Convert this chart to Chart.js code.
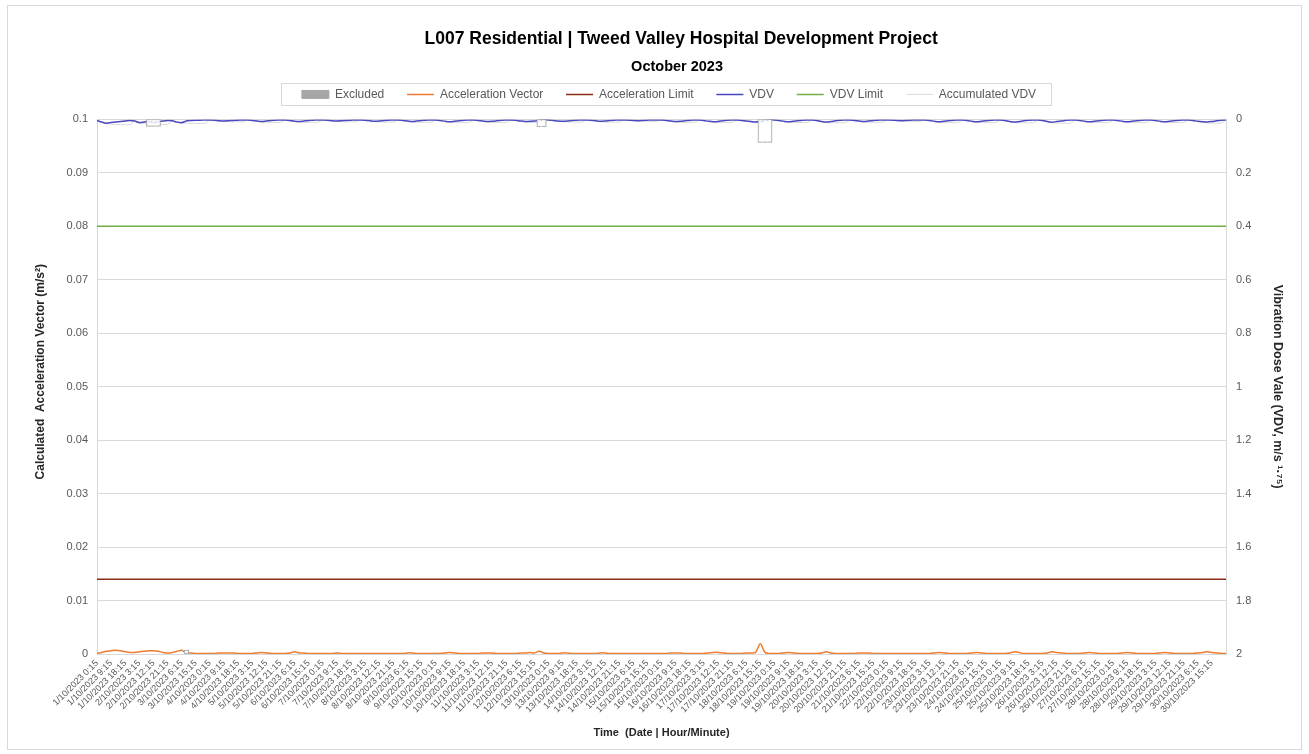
<!DOCTYPE html>
<html>
<head>
<meta charset="utf-8">
<script src="https://cdn.jsdelivr.net/npm/chart.js@4"></script>
<style>
  html, body { margin: 0; padding: 0; background: #fff; }
  #wrap { width: 1309px; height: 754px; }
</style>
</head>
<body>
<div id="wrap"><canvas id="vibChart" width="1309" height="754"></canvas></div>
<script>
// x categories: every 3 hours from 1/10/2023 0:15 to 31/10/2023 0:15
const timeLabels = []
for (let d = 1; d <= 31; d++) {
  for (let h = 0; h < 24; h += 3) {
    if (d === 31 && h > 0) break
    timeLabels.push(d + "/10/2023 " + h + ":15")
  }
}

// Acceleration vector (m/s2), left axis
const accelVector = [
  0.0001,0.0003,0.0005,0.0006,0.0007,0.0006,0.0004,0.0003,
  0.0003,0.0004,0.0005,0.0006,0.0006,0.0005,0.0003,0.0002,
  0.0003,0.0005,0.0007,0.0002,0.0002,0.0001,0.0001,0.0001,
  0.0001,0.0001,0.0002,0.0002,0.0002,0.0002,0.0001,0.0001,
  0.0001,0.0001,0.0002,0.0003,0.0002,0.0001,0.0001,0.0001,
  0.0001,0.0002,0.0004,0.0002,0.0002,0.0001,0.0001,0.0001,
  0.0001,0.0001,0.0001,0.0002,0.0001,0.0001,0.0001,0.0001,
  0.0001,0.0001,0.0001,0.0001,0.0001,0.0001,0.0001,0.0001,
  0.0001,0.0001,0.0002,0.0002,0.0001,0.0001,0.0001,0.0001,
  0.0001,0.0001,0.0002,0.0003,0.0002,0.0001,0.0001,0.0001,
  0.0001,0.0001,0.0002,0.0002,0.0002,0.0001,0.0001,0.0001,
  0.0001,0.0001,0.0002,0.0002,0.0003,0.0002,0.0005,0.0002,
  0.0001,0.0001,0.0001,0.0002,0.0002,0.0001,0.0001,0.0001,
  0.0001,0.0001,0.0001,0.0002,0.0002,0.0001,0.0001,0.0001,
  0.0001,0.0001,0.0001,0.0001,0.0001,0.0001,0.0001,0.0001,
  0.0001,0.0001,0.0002,0.0002,0.0002,0.0001,0.0001,0.0001,
  0.0001,0.0001,0.0002,0.0003,0.0003,0.0002,0.0001,0.0001,
  0.0001,0.0001,0.0002,0.0002,0.0003,0.0019,0.0003,0.0001,
  0.0001,0.0001,0.0002,0.0003,0.0002,0.0001,0.0001,0.0001,
  0.0001,0.0001,0.0002,0.0004,0.0002,0.0001,0.0001,0.0001,
  0.0001,0.0001,0.0002,0.0002,0.0002,0.0001,0.0001,0.0001,
  0.0001,0.0001,0.0001,0.0001,0.0001,0.0001,0.0001,0.0001,
  0.0001,0.0001,0.0002,0.0003,0.0002,0.0001,0.0001,0.0001,
  0.0001,0.0001,0.0002,0.0003,0.0002,0.0001,0.0001,0.0001,
  0.0001,0.0001,0.0002,0.0004,0.0003,0.0001,0.0001,0.0001,
  0.0001,0.0001,0.0002,0.0004,0.0003,0.0002,0.0001,0.0001,
  0.0001,0.0001,0.0002,0.0003,0.0002,0.0001,0.0001,0.0001,
  0.0001,0.0001,0.0002,0.0003,0.0002,0.0001,0.0001,0.0001,
  0.0001,0.0001,0.0002,0.0003,0.0002,0.0001,0.0001,0.0001,
  0.0001,0.0001,0.0002,0.0003,0.0004,0.0003,0.0002,0.0001,
  0.0001
]

// VDV (m/s^1.75), right axis (reversed)
const vdv = [
  0.004,0.010,0.014,0.012,0.010,0.008,0.006,0.004,
  0.006,0.012,0.010,0.008,0.012,0.009,0.006,0.004,
  0.005,0.010,0.012,0.006,0.004,0.003,0.003,0.002,
  0.002,0.003,0.005,0.006,0.005,0.004,0.003,0.002,
  0.002,0.004,0.006,0.008,0.006,0.004,0.003,0.002,
  0.002,0.004,0.007,0.008,0.006,0.004,0.003,0.002,
  0.002,0.003,0.005,0.006,0.005,0.004,0.003,0.002,
  0.002,0.003,0.005,0.007,0.006,0.004,0.003,0.002,
  0.002,0.004,0.006,0.008,0.006,0.004,0.003,0.002,
  0.002,0.004,0.007,0.009,0.007,0.005,0.003,0.002,
  0.002,0.004,0.006,0.008,0.007,0.005,0.003,0.002,
  0.002,0.003,0.006,0.008,0.007,0.006,0.004,0.002,
  0.002,0.004,0.006,0.007,0.006,0.004,0.003,0.002,
  0.002,0.003,0.005,0.007,0.006,0.004,0.003,0.002,
  0.002,0.003,0.004,0.005,0.004,0.003,0.002,0.002,
  0.002,0.004,0.006,0.008,0.007,0.005,0.003,0.002,
  0.002,0.004,0.007,0.009,0.008,0.005,0.003,0.002,
  0.002,0.004,0.006,0.008,0.010,0.007,0.004,0.002,
  0.002,0.004,0.007,0.009,0.007,0.005,0.003,0.002,
  0.002,0.004,0.008,0.010,0.008,0.005,0.003,0.002,
  0.002,0.004,0.006,0.008,0.006,0.004,0.003,0.002,
  0.002,0.003,0.004,0.005,0.004,0.003,0.002,0.002,
  0.002,0.004,0.007,0.009,0.007,0.005,0.003,0.002,
  0.002,0.004,0.007,0.009,0.007,0.005,0.003,0.002,
  0.002,0.004,0.008,0.010,0.008,0.005,0.003,0.002,
  0.002,0.004,0.008,0.011,0.008,0.006,0.003,0.002,
  0.002,0.004,0.007,0.009,0.007,0.005,0.003,0.002,
  0.002,0.004,0.007,0.009,0.007,0.005,0.003,0.002,
  0.002,0.004,0.007,0.009,0.007,0.005,0.003,0.002,
  0.002,0.004,0.007,0.009,0.010,0.008,0.005,0.003,
  0.002
]

// Accumulated VDV, right axis
const accumVdv = [
  0.004,0.011,0.016,0.018,0.019,0.020,0.020,0.020,
  0.006,0.013,0.015,0.016,0.018,0.019,0.019,0.019,
  0.005,0.011,0.014,0.014,0.015,0.015,0.015,0.015,
  0.002,0.004,0.006,0.008,0.009,0.009,0.009,0.009,
  0.002,0.004,0.007,0.010,0.011,0.011,0.011,0.011,
  0.002,0.005,0.008,0.010,0.011,0.011,0.011,0.011,
  0.002,0.004,0.006,0.008,0.009,0.009,0.009,0.009,
  0.002,0.004,0.006,0.009,0.010,0.010,0.010,0.010,
  0.002,0.004,0.007,0.010,0.011,0.011,0.011,0.011,
  0.002,0.005,0.008,0.011,0.012,0.012,0.012,0.012,
  0.002,0.004,0.007,0.010,0.011,0.012,0.012,0.012,
  0.002,0.004,0.007,0.010,0.011,0.012,0.012,0.012,
  0.002,0.004,0.007,0.009,0.010,0.010,0.010,0.010,
  0.002,0.004,0.006,0.009,0.010,0.010,0.010,0.010,
  0.002,0.003,0.005,0.006,0.007,0.007,0.007,0.007,
  0.002,0.004,0.007,0.010,0.011,0.011,0.011,0.011,
  0.002,0.005,0.008,0.011,0.012,0.012,0.012,0.012,
  0.002,0.004,0.007,0.010,0.012,0.013,0.013,0.013,
  0.002,0.005,0.008,0.011,0.012,0.012,0.012,0.012,
  0.002,0.005,0.009,0.012,0.013,0.013,0.013,0.013,
  0.002,0.004,0.007,0.010,0.011,0.011,0.011,0.011,
  0.002,0.003,0.005,0.006,0.007,0.007,0.007,0.007,
  0.002,0.005,0.008,0.011,0.012,0.012,0.012,0.012,
  0.002,0.005,0.008,0.011,0.012,0.012,0.012,0.012,
  0.002,0.005,0.009,0.012,0.013,0.013,0.013,0.013,
  0.002,0.005,0.009,0.013,0.014,0.014,0.014,0.014,
  0.002,0.005,0.008,0.011,0.012,0.012,0.012,0.012,
  0.002,0.005,0.008,0.011,0.012,0.012,0.012,0.012,
  0.002,0.005,0.008,0.011,0.012,0.012,0.012,0.012,
  0.002,0.005,0.008,0.011,0.013,0.014,0.014,0.014,
  0.002
]

// Excluded periods, floating bars on right axis [from, to]
const excludedAt = ["2/10/2023 9:15", "2/10/2023 12:15", "2/10/2023 15:15", "3/10/2023 9:15",
  "12/10/2023 18:15", "12/10/2023 21:15",
  "18/10/2023 15:15", "18/10/2023 18:15", "18/10/2023 21:15"]
const excludedFrom = [0, 0, 0, 1.985, 0, 0, 0, 0, 0]
const excludedTo = [0.026, 0.026, 0.026, 2, 0.028, 0.028, 0.086, 0.086, 0.086]

const accelLimit = 0.014
const vdvLimit = 0.4
const leftTicksMax = 0.1
const rightTicksMax = 2

const gridGrey = "#d9d9d9"
const textGrey = "#595959"
const sans = "Liberation Sans, Arial, sans-serif"

// neighbouring excluded bars of one period share a single outline
const excludedIdx = excludedAt.map((t) => timeLabels.indexOf(t))
const samePeriod = (a, b) =>
  b >= 0 && b < excludedIdx.length &&
  Math.abs(excludedIdx[a] - excludedIdx[b]) === 1 &&
  excludedFrom[a] === excludedFrom[b] && excludedTo[a] === excludedTo[b]

const legendFrame = {
  id: "legendFrame",
  beforeInit(chart) {
    // extra room between legend and plot area
    const fit = chart.legend.fit
    chart.legend.fit = function () {
      fit.call(this)
      this.height += 9
    }
  },
  beforeDraw(chart) {
    const ctx = chart.ctx
    ctx.save()
    ctx.fillStyle = "#fff"
    ctx.fillRect(0, 0, chart.width, chart.height)
    ctx.strokeStyle = "#d9d9d9"
    ctx.lineWidth = 1
    ctx.strokeRect(7.5, 5.5, chart.width - 15, chart.height - 10)
    ctx.restore()
  },
  afterDraw(chart) {
    const lg = chart.legend
    if (!lg || !lg.legendHitBoxes.length) return
    const boxes = lg.legendHitBoxes
    const left = boxes[0].left - 21
    const last = boxes[boxes.length - 1]
    const right = last.left + last.width + 15
    const top = boxes[0].top - 5
    const ctx = chart.ctx
    ctx.save()
    ctx.strokeStyle = "#d9d9d9"
    ctx.lineWidth = 1
    ctx.strokeRect(Math.round(left) + 0.5, Math.round(top) + 0.5, Math.round(right - left), Math.round(boxes[0].height + 10))
    ctx.restore()
  }
}

const gap = "\u00a0\u00a0"

new Chart(document.getElementById("vibChart"), {
  type: "line",
  data: {
    labels: timeLabels,
    datasets: [
      {
        type: "bar",
        label: "Excluded" + gap,
        data: excludedAt.map((t, i) => ({ x: t, y: [excludedFrom[i], excludedTo[i]] })),
        yAxisID: "yRight",
        backgroundColor: "rgba(255,255,255,0.85)",
        borderColor: "#a6a6a6",
        borderWidth: (c) => ({
          top: 1,
          bottom: 1,
          left: samePeriod(c.dataIndex, c.dataIndex - 1) ? 0 : 1,
          right: samePeriod(c.dataIndex, c.dataIndex + 1) ? 0 : 1,
        }),
        borderSkipped: false,
        barPercentage: 1,
        categoryPercentage: 1,
        pointStyle: "rect",
      },
      {
        label: "Acceleration Vector" + gap,
        data: accelVector,
        yAxisID: "yLeft",
        borderColor: "#ed7d31",
        backgroundColor: "#ed7d31",
        borderWidth: 1.5,
        pointRadius: 0,
        tension: 0.3,
        pointStyle: "line",
      },
      {
        label: "Acceleration Limit" + gap,
        data: timeLabels.map(() => accelLimit),
        yAxisID: "yLeft",
        borderColor: "#8b2c14",
        backgroundColor: "#8b2c14",
        borderWidth: 1.5,
        pointRadius: 0,
        pointStyle: "line",
      },
      {
        label: "VDV" + gap,
        data: vdv,
        yAxisID: "yRight",
        borderColor: "#4848c0",
        backgroundColor: "#4848c0",
        borderWidth: 1.5,
        pointRadius: 0,
        tension: 0.3,
        pointStyle: "line",
      },
      {
        label: "VDV Limit" + gap,
        data: timeLabels.map(() => vdvLimit),
        yAxisID: "yRight",
        borderColor: "#70ad47",
        backgroundColor: "#70ad47",
        borderWidth: 1.5,
        pointRadius: 0,
        pointStyle: "line",
      },
      {
        label: "Accumulated VDV",
        data: accumVdv,
        yAxisID: "yRight",
        borderColor: "#d9d9d9",
        backgroundColor: "#d9d9d9",
        borderWidth: 1,
        pointRadius: 0,
        pointStyle: "line",
      },
    ],
  },
  options: {
    responsive: false,
    animation: false,
    layout: { padding: { left: 41, right: 12, top: 24, bottom: 10 } },
    plugins: {
      title: {
        display: true,
        text: "\u00a0".repeat(5) + "L007 Residential | Tweed Valley Hospital Development Project",
        color: "#000",
        font: { family: sans, size: 17.5, weight: "bold" },
        padding: { top: 5, bottom: 2 },
      },
      subtitle: {
        display: true,
        text: "\u00a0".repeat(4) + "October 2023",
        color: "#000",
        font: { family: sans, size: 14.5, weight: "bold" },
        padding: { top: 6, bottom: -3 },
      },
      legend: {
        position: "top",
        labels: {
          color: textGrey,
          font: { family: sans, size: 12 },
          usePointStyle: true,
          pointStyleWidth: 27,
          boxHeight: 8,
          padding: 16,
          generateLabels: (chart) => {
            const items = Chart.defaults.plugins.legend.labels.generateLabels(chart)
            items[0].fillStyle = "#a6a6a6"
            items[0].strokeStyle = "#a6a6a6"
            items[0].lineWidth = 1
            return items
          },
        },
      },
      tooltip: { enabled: false },
    },
    scales: {
      x: {
        type: "category",
        offset: false,
        grid: { display: false, drawTicks: false },
        border: { display: true, color: gridGrey },
        afterFit: (s) => { s.height = 90 },
        ticks: {
          autoSkip: false,
          minRotation: 45,
          maxRotation: 45,
          padding: 4,
          color: textGrey,
          font: { family: sans, size: 9 },
          callback: function (v, i) {
            return i % 3 === 0 && i < timeLabels.length - 1 ? this.getLabelForValue(v) : ""
          },
        },
        title: {
          display: true,
          text: "Time  (Date | Hour/Minute)",
          color: "#262626",
          font: { family: sans, size: 11, weight: "bold" },
          padding: { top: 0, bottom: 4 },
        },
      },
      yLeft: {
        position: "left",
        min: 0,
        max: leftTicksMax,
        afterFit: (s) => { s.width = 56 },
        grid: { color: gridGrey, drawTicks: false },
        border: { display: true, color: gridGrey },
        ticks: {
          stepSize: 0.01,
          padding: 9,
          color: textGrey,
          font: { family: sans, size: 11 },
          callback: (v) => String(+v.toFixed(2)),
        },
        title: {
          display: true,
          text: "\u00a0".repeat(9) + "Calculated  Acceleration Vector (m/s²)",
          color: "#262626",
          font: { family: sans, size: 12, weight: "bold" },
          padding: { top: -8, bottom: 0 },
        },
      },
      yRight: {
        position: "right",
        reverse: true,
        min: 0,
        max: rightTicksMax,
        afterFit: (s) => { s.width = 71 },
        grid: { display: false, drawTicks: false },
        border: { display: true, color: gridGrey },
        ticks: {
          stepSize: 0.2,
          padding: 10,
          color: textGrey,
          font: { family: sans, size: 11 },
          callback: (v) => String(+v.toFixed(1)),
        },
        title: {
          display: true,
          text: "Vibration Dose Vale (VDV, m/s ¹·⁷⁵)",
          color: "#262626",
          font: { family: sans, size: 12.5, weight: "bold" },
          padding: { top: 12, bottom: 0 },
        },
      },
    },
  },
  plugins: [legendFrame],
})
</script>
</body>
</html>
